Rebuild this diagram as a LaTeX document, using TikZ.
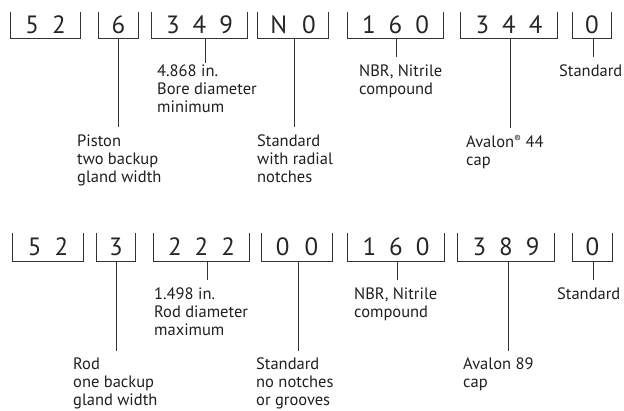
\documentclass[tikz,border=0pt]{standalone}
\usepackage{fontspec}
\setmainfont{PT Sans}
\begin{document}
\begin{tikzpicture}[x=1pt,y=-1pt,
  codebox/.style={inner sep=0pt, minimum height=#1, font=\fontsize{25}{25}\selectfont, text=black!85},
  brk/.style={draw=black!80, line width=0.9pt},
  stem/.style={draw=black!80, line width=0.9pt},
  lbl/.style={anchor=north west, inner sep=0pt, align=left, font=\fontsize{16.5}{18}\selectfont, text=black!88}]
\useasboundingbox (0,0) rectangle (624,410);
\newcommand\dg{\hspace{13pt}}
\newcommand\dgw{\hspace{15pt}}
% Row 1 code boxes
\node[codebox=26pt, minimum width=69pt] (a1) at (45.5,25) {5\dg 2};
\node[codebox=26pt, minimum width=39pt] (a2) at (118.5,25) {6};
\node[codebox=26pt, minimum width=95pt] (a3) at (199.5,25) {3\dg 4\dg 9};
\node[codebox=26pt, minimum width=70pt] (a4) at (293,25) {N\dgw 0};
\node[codebox=26pt, minimum width=95pt] (a5) at (395.5,25) {1\dg 6\dg 0};
\node[codebox=26pt, minimum width=96pt] (a6) at (509,25) {3\dg 4\dg 4};
\node[codebox=26pt, minimum width=38pt] (a7) at (592,25) {0};
\foreach \n in {a1,a2,a3,a4,a5,a6,a7}
  \draw[brk] (\n.north west) -- (\n.south west) -- (\n.south east) -- (\n.north east);
% Row 1 labels
\node[lbl] (l3) at (157,65) {4.868 in.\\Bore diameter\\minimum};
\node[lbl] (l2) at (77,135) {Piston\\two backup\\gland width};
\node[lbl] (l4) at (257,135) {Standard\\with radial\\notches};
\node[lbl] (l5) at (359,65) {NBR, Nitrile\\compound};
\node[lbl] (l7) at (559,65) {Standard};
\node[lbl] (l6) at (466,135) {Avalon{\fontsize{10}{10}\selectfont\raisebox{5pt}{®}} 44\\cap};
% Row 1 stems
\coordinate (e2) at (118,127);
\coordinate (e3) at (205,63);
\coordinate (e4) at (294,127);
\coordinate (e5) at (396,57);
\coordinate (e6) at (510,128);
\coordinate (e7) at (593,57);
\draw[stem] (a2.south -| e2) -- (e2);
\draw[stem] (a3.south -| e3) -- (e3);
\draw[stem] (a4.south -| e4) -- (e4);
\draw[stem] (a5.south -| e5) -- (e5);
\draw[stem] (a6.south -| e6) -- (e6);
\draw[stem] (a7.south -| e7) -- (e7);
% Row 2 code boxes
\node[codebox=28pt, minimum width=70pt] (b1) at (48,247) {5\dg 2};
\node[codebox=28pt, minimum width=38pt] (b2) at (116,247) {3};
\node[codebox=28pt, minimum width=95pt] (b3) at (201.5,247) {2\dg 2\dg 2};
\node[codebox=28pt, minimum width=70pt] (b4) at (297,247) {0\dgw 0};
\node[codebox=28pt, minimum width=96pt] (b5) at (396,247) {1\dg 6\dg 0};
\node[codebox=28pt, minimum width=96pt] (b6) at (506,247) {3\dg 8\dg 9};
\node[codebox=28pt, minimum width=39pt] (b7) at (592.5,247) {0};
\foreach \n in {b1,b2,b3,b4,b5,b6,b7}
  \draw[brk] (\n.north west) -- (\n.south west) -- (\n.south east) -- (\n.north east);
% Row 2 labels
\node[lbl] (m3) at (154,288) {1.498 in.\\Rod diameter\\maximum};
\node[lbl] (m2) at (73,358) {Rod\\one backup\\gland width};
\node[lbl] (m4) at (256,358) {Standard\\no notches\\or grooves};
\node[lbl] (m5) at (354,288) {NBR, Nitrile\\compound};
\node[lbl] (m7) at (557,288) {Standard};
\node[lbl] (m6) at (463,358) {Avalon 89\\cap};
% Row 2 stems
\coordinate (f2) at (116,351);
\coordinate (f3) at (207,280);
\coordinate (f4) at (298,351);
\coordinate (f5) at (397,280);
\coordinate (f6) at (508,351);
\coordinate (f7) at (593,280);
\draw[stem] (b2.south -| f2) -- (f2);
\draw[stem] (b3.south -| f3) -- (f3);
\draw[stem] (b4.south -| f4) -- (f4);
\draw[stem] (b5.south -| f5) -- (f5);
\draw[stem] (b6.south -| f6) -- (f6);
\draw[stem] (b7.south -| f7) -- (f7);
\end{tikzpicture}
\end{document}
